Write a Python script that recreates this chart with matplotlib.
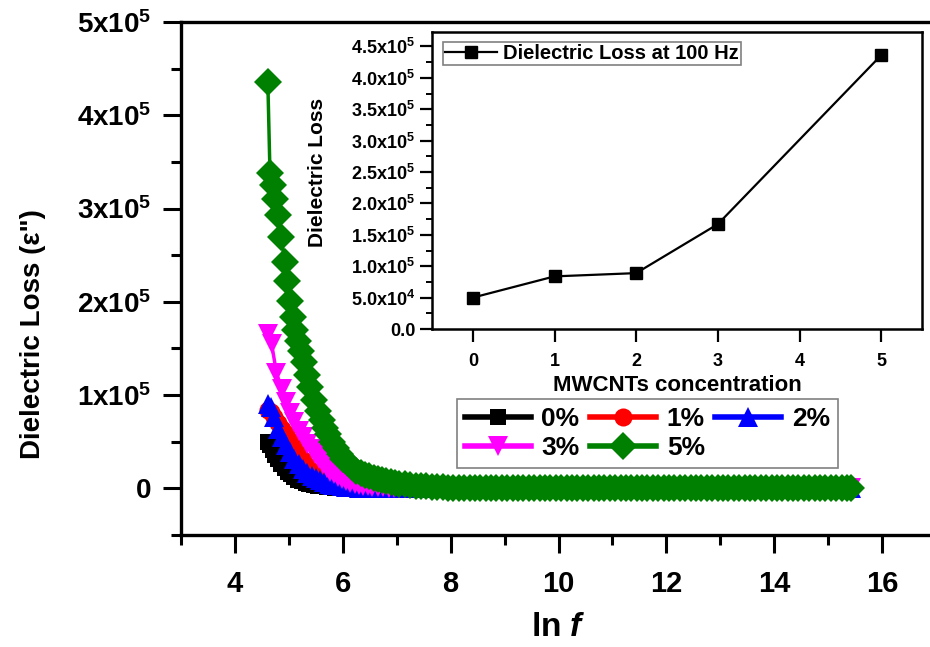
import matplotlib
matplotlib.use("Agg")
import matplotlib.pyplot as plt
from matplotlib.ticker import FixedLocator, MultipleLocator
import numpy as np

plt.rcParams["font.family"] = ["Liberation Sans", "DejaVu Sans"]
plt.rcParams["font.weight"] = "bold"
plt.rcParams["mathtext.fontset"] = "custom"
plt.rcParams["mathtext.rm"] = "Liberation Sans:bold"
plt.rcParams["mathtext.bf"] = "Liberation Sans:bold"
plt.rcParams["mathtext.it"] = "Liberation Sans:bold:italic"

# -----------------------------
# Data (dielectric loss in units of 1e5, x = ln f)
# -----------------------------
SCALE = 1e5

LNF_0 = [4.61, 4.65, 4.70, 4.75, 4.80, 4.86, 4.92, 4.98, 5.04, 5.10, 5.17, 5.24,
         5.31, 5.38, 5.46, 5.54, 5.62, 5.70, 5.78, 5.86, 5.94, 6.02, 6.10, 6.20,
         6.30, 6.40, 6.55, 6.70, 6.85, 7.00, 7.15, 7.30, 7.45, 7.60, 7.75, 7.90]
VAL_0 = [0.50, 0.46, 0.41, 0.36, 0.31, 0.26, 0.22, 0.18, 0.15, 0.12, 0.095, 0.075,
         0.058, 0.045, 0.034, 0.026, 0.020, 0.015, 0.011, 0.008, 0.006, 0.004, 0.003, 0.002,
         0.001, 0.0, 0.0, 0.0, 0.0, 0.0, 0.0, 0.0, 0.0, 0.0, 0.0, 0.0]

LNF_1 = [4.61, 4.66, 4.72, 4.80, 4.87, 4.95, 5.02, 5.10, 5.18, 5.26, 5.34, 5.42,
         5.50, 5.58, 5.66, 5.74, 5.82, 5.90, 5.98, 6.06, 6.14, 6.22, 6.30, 6.40,
         6.50, 6.60, 6.70, 6.80, 6.95, 7.10, 7.25, 7.40, 7.55, 7.70, 7.85, 7.95]
VAL_1 = [0.84, 0.82, 0.77, 0.70, 0.64, 0.58, 0.51, 0.44, 0.37, 0.30, 0.24, 0.19,
         0.15, 0.12, 0.09, 0.07, 0.055, 0.043, 0.033, 0.025, 0.019, 0.014, 0.010, 0.007,
         0.005, 0.003, 0.002, 0.001, 0.0, 0.0, 0.0, 0.0, 0.0, 0.0, 0.0, 0.0]

LNF_2 = [4.61, 4.66, 4.72, 4.80, 4.87, 4.95, 5.02, 5.10, 5.18, 5.26, 5.34, 5.42,
         5.50, 5.58, 5.66, 5.74, 5.82, 5.90, 5.98, 6.06, 6.14, 6.22, 6.30, 6.40,
         6.50, 6.60, 6.70, 6.80, 6.95, 7.10, 7.25, 7.40, 7.55, 7.70, 7.85, 7.95]
VAL_2 = [0.90, 0.87, 0.76, 0.64, 0.55, 0.46, 0.39, 0.32, 0.26, 0.21, 0.17, 0.135,
         0.11, 0.085, 0.067, 0.052, 0.040, 0.031, 0.024, 0.018, 0.014, 0.011, 0.008, 0.006,
         0.004, 0.003, 0.002, 0.001, 0.0, 0.0, 0.0, 0.0, 0.0, 0.0, 0.0, 0.0]

LNF_3 = [4.61, 4.68, 4.77, 4.87, 4.95, 5.02, 5.10, 5.18, 5.26, 5.34, 5.42, 5.49,
         5.56, 5.63, 5.70, 5.77, 5.84, 5.91, 5.98, 6.06, 6.14, 6.22, 6.30, 6.38,
         6.46, 6.55, 6.65, 6.75, 6.85, 6.95, 7.05, 7.15, 7.25, 7.35, 7.45, 7.55,
         7.65, 7.75, 7.85, 7.95]
VAL_3 = [1.66, 1.55, 1.24, 1.06, 0.93, 0.81, 0.71, 0.62, 0.55, 0.48, 0.42, 0.37,
         0.31, 0.26, 0.22, 0.18, 0.15, 0.12, 0.10, 0.08, 0.062, 0.048, 0.037, 0.028,
         0.022, 0.017, 0.013, 0.010, 0.007, 0.005, 0.004, 0.003, 0.002, 0.001, 0.0, 0.0,
         0.0, 0.0, 0.0, 0.0]

LNF_5 = [4.61, 4.65, 4.70, 4.75, 4.80, 4.86, 4.92, 4.97, 5.02, 5.07, 5.12, 5.17,
         5.23, 5.28, 5.34, 5.40, 5.47, 5.54, 5.61, 5.67, 5.73, 5.80, 5.87, 5.94,
         6.01, 6.09, 6.17, 6.25, 6.33, 6.41, 6.49, 6.57, 6.65, 6.73, 6.81, 6.89,
         6.97, 7.05, 7.15, 7.25, 7.35, 7.45, 7.55, 7.65, 7.75, 7.85, 7.95]
VAL_5 = [4.36, 3.38, 3.25, 3.10, 2.93, 2.70, 2.43, 2.22, 2.01, 1.84, 1.70, 1.58,
         1.47, 1.35, 1.22, 1.09, 0.95, 0.83, 0.73, 0.65, 0.58, 0.50, 0.43, 0.37,
         0.32, 0.27, 0.23, 0.19, 0.165, 0.145, 0.128, 0.113, 0.100, 0.088, 0.077, 0.067,
         0.058, 0.050, 0.043, 0.036, 0.030, 0.025, 0.021, 0.017, 0.014, 0.011, 0.009]

# high-frequency part, same for every sample (flat at zero)
TAIL_LNF = [8.05, 8.15, 8.25, 8.35, 8.45, 8.55, 8.65, 8.75, 8.85, 8.95,
            9.05, 9.15, 9.25, 9.35, 9.45, 9.55, 9.65, 9.75, 9.85, 9.95,
            10.05, 10.15, 10.25, 10.35, 10.45, 10.55, 10.65, 10.75, 10.85, 10.95,
            11.05, 11.15, 11.25, 11.35, 11.45, 11.55, 11.65, 11.75, 11.85, 11.95,
            12.05, 12.15, 12.25, 12.35, 12.45, 12.55, 12.65, 12.75, 12.85, 12.95,
            13.05, 13.15, 13.25, 13.35, 13.45, 13.55, 13.65, 13.75, 13.85, 13.95,
            14.05, 14.15, 14.25, 14.35, 14.45, 14.55, 14.65, 14.75, 14.85, 14.95,
            15.05, 15.15, 15.25, 15.35, 15.42]
TAIL_VAL = [0, 0, 0, 0, 0, 0, 0, 0, 0, 0,
            0, 0, 0, 0, 0, 0, 0, 0, 0, 0,
            0, 0, 0, 0, 0, 0, 0, 0, 0, 0,
            0, 0, 0, 0, 0, 0, 0, 0, 0, 0,
            0, 0, 0, 0, 0, 0, 0, 0, 0, 0,
            0, 0, 0, 0, 0, 0, 0, 0, 0, 0,
            0, 0, 0, 0, 0, 0, 0, 0, 0, 0,
            0, 0, 0, 0, 0]

LABELS = ["0%", "1%", "2%", "3%", "5%"]
COLORS = ["black", "red", "blue", "magenta", "green"]
MARKERS = ["s", "o", "^", "v", "D"]
MSIZES = [12, 13, 15, 15, 14]

# inset: loss at 100 Hz vs MWCNTs concentration
CONC = [0, 1, 2, 3, 5]
LOSS_100HZ = [5.0e4, 8.38e4, 8.9e4, 1.67e5, 4.36e5]

MAIN_YTICKS = [0, 1e5, 2e5, 3e5, 4e5, 5e5]
MAIN_YTICKLABELS = ["0", r"1x10$^{5}$", r"2x10$^{5}$", r"3x10$^{5}$", r"4x10$^{5}$", r"5x10$^{5}$"]
INSET_YTICKS = [0, 0.5e5, 1.0e5, 1.5e5, 2.0e5, 2.5e5, 3.0e5, 3.5e5, 4.0e5, 4.5e5]
INSET_YTICKLABELS = ["0.0", r"5.0x10$^{4}$", r"1.0x10$^{5}$", r"1.5x10$^{5}$", r"2.0x10$^{5}$",
                     r"2.5x10$^{5}$", r"3.0x10$^{5}$", r"3.5x10$^{5}$", r"4.0x10$^{5}$", r"4.5x10$^{5}$"]

W, H = 930, 647
fig = plt.figure(figsize=(W / 100, H / 100), dpi=100)

# -----------------------------
# Main axes
# -----------------------------
ax = fig.add_axes([181 / W, 1 - 535 / H, 755 / W, (535 - 22) / H])

series_x = [LNF_0, LNF_1, LNF_2, LNF_3, LNF_5]
series_y = [VAL_0, VAL_1, VAL_2, VAL_3, VAL_5]
lines = []
for xs, ys, lab, col, mk, ms in zip(series_x, series_y, LABELS, COLORS, MARKERS, MSIZES):
    x = np.array(xs + TAIL_LNF)
    y = np.array(ys + TAIL_VAL) * SCALE
    ln, = ax.plot(x, y, color=col, marker=mk, markersize=ms, lw=2.5,
                  markeredgewidth=0, label=lab)
    lines.append(ln)

ax.set_xlim(3, 17)
ax.set_ylim(-0.5e5, 5e5)
ax.xaxis.set_major_locator(MultipleLocator(2))
ax.xaxis.set_minor_locator(MultipleLocator(1))
ax.yaxis.set_major_locator(FixedLocator(MAIN_YTICKS))
ax.yaxis.set_minor_locator(MultipleLocator(0.5e5))
ax.set_yticklabels(MAIN_YTICKLABELS)

for side in ["left", "bottom", "top"]:
    ax.spines[side].set_linewidth(2.4)
ax.spines["right"].set_visible(False)
ax.tick_params(which="major", direction="out", length=13, width=2.2, labelsize=20, pad=8)
ax.tick_params(axis="x", which="major", labelsize=21, pad=12)
ax.tick_params(which="minor", direction="out", length=7, width=2.2)
for t in ax.get_xticklabels() + ax.get_yticklabels():
    t.set_fontweight("bold")

ax.set_ylabel("Dielectric Loss (\u03b5\")", fontsize=20, fontweight="bold")
ax.yaxis.set_label_coords((46 - 181) / 755, (535 - 334) / 513)
ax.set_xlabel(r"ln $\mathit{f}$", fontsize=24, fontweight="bold", va="bottom")
ax.xaxis.set_label_coords(0.5, (535 - 643) / 513)

order = [0, 3, 1, 4, 2]
leg = ax.legend([lines[i] for i in order], [LABELS[i] for i in order],
                ncol=3, loc="upper left", bbox_to_anchor=(457 / W, 1 - 399 / H),
                bbox_transform=fig.transFigure, borderaxespad=0,
                prop={"size": 19, "weight": "bold"}, handlelength=2.5,
                handletextpad=0.4, columnspacing=0.4, labelspacing=0.2,
                borderpad=0.3, fancybox=False, framealpha=1, edgecolor="gray")
leg.get_frame().set_linewidth(1.2)
for h in leg.legend_handles:
    h.set_linewidth(4)

# -----------------------------
# Inset axes
# -----------------------------
ax2 = fig.add_axes([432 / W, 1 - 329 / H, 490 / W, 297 / H])
ax2.plot(CONC, LOSS_100HZ, color="black", marker="s", markersize=8, lw=1.6,
         label="Dielectric Loss at 100 Hz")
ax2.set_xlim(-0.5, 5.5)
ax2.set_ylim(0, 4.73e5)
ax2.set_xticks(range(0, 6))
ax2.yaxis.set_major_locator(FixedLocator(INSET_YTICKS))
ax2.yaxis.set_minor_locator(MultipleLocator(0.25e5))
ax2.set_yticklabels(INSET_YTICKLABELS)
for s in ax2.spines.values():
    s.set_linewidth(1.8)
ax2.tick_params(which="major", direction="out", length=9, width=1.6, labelsize=13, pad=3)
ax2.tick_params(axis="x", which="major", pad=8)
ax2.tick_params(which="minor", direction="out", length=4, width=1.4)
for t in ax2.get_xticklabels() + ax2.get_yticklabels():
    t.set_fontweight("bold")
ax2.set_ylabel("Dielectric Loss", fontsize=15, fontweight="bold")
ax2.yaxis.set_label_coords((327 - 432) / 490, (329 - 172) / 297)
ax2.set_xlabel("MWCNTs concentration", fontsize=16, fontweight="bold", labelpad=4)

leg2 = ax2.legend(loc="upper left", bbox_to_anchor=(443 / W, 1 - 42 / H),
                  bbox_transform=fig.transFigure, borderaxespad=0,
                  prop={"size": 14.5, "weight": "bold"}, handlelength=2.6,
                  handletextpad=0.3, borderpad=0.1, fancybox=False,
                  framealpha=1, edgecolor="gray")
leg2.get_frame().set_linewidth(1.2)

fig.savefig("out.png", dpi=100)
